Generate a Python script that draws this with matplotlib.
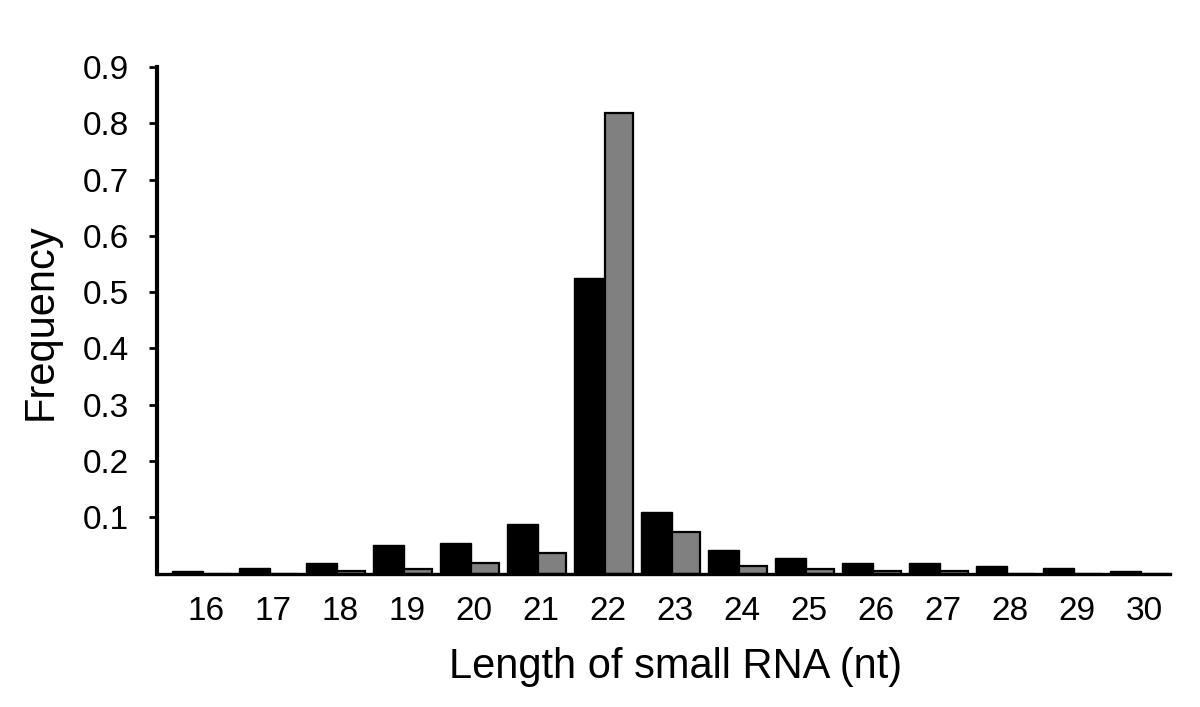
import numpy as np
import matplotlib
matplotlib.use("Agg")
import matplotlib.pyplot as plt

plt.rcParams["font.family"] = ["Liberation Sans", "DejaVu Sans"]

lengths = [16, 17, 18, 19, 20, 21, 22, 23, 24, 25, 26, 27, 28, 29, 30]
black_freq = [0.004, 0.010, 0.019, 0.051, 0.054, 0.088, 0.525, 0.109,
              0.042, 0.028, 0.019, 0.019, 0.013, 0.010, 0.004]
gray_freq = [0.0, 0.0, 0.004, 0.008, 0.019, 0.036, 0.819, 0.073,
             0.013, 0.008, 0.004, 0.004, 0.0, 0.0, 0.0]
y_ticks = [0.1, 0.2, 0.3, 0.4, 0.5, 0.6, 0.7, 0.8, 0.9]

fig = plt.figure(figsize=(12, 7.07), dpi=100)
ax = fig.add_axes([0.1308, 0.1888, 0.8442, 0.7164])

x = np.arange(len(lengths))
ax.bar(x, black_freq, width=-0.47, align="edge", color="black",
       edgecolor="black", linewidth=1.0)
ax.bar(x, gray_freq, width=0.42, align="edge", color="#808080",
       edgecolor="black", linewidth=1.6)

ax.set_xlim(-0.687, 14.43)
ax.set_ylim(0, 0.9)
ax.set_xticks(x + 0.04)
ax.set_xticklabels([str(v) for v in lengths])
ax.set_yticks(y_ticks)
ax.set_yticklabels([f"{v:.1f}" for v in y_ticks])

for side in ["top", "right"]:
    ax.spines[side].set_visible(False)
ax.spines["left"].set_linewidth(3.0)
ax.spines["bottom"].set_linewidth(2.4)

ax.tick_params(axis="x", length=0, pad=16, labelsize=24)
ax.tick_params(axis="y", length=6, width=2.0, direction="out", pad=14,
               labelsize=24)

fig.text(0.563, 0.057, "Length of small RNA (nt)", ha="center", va="center",
         fontsize=30)
fig.text(0.034, 0.545, "Frequency", ha="center", va="center", rotation=90,
         fontsize=30)

fig.savefig("out.png", dpi=100)
